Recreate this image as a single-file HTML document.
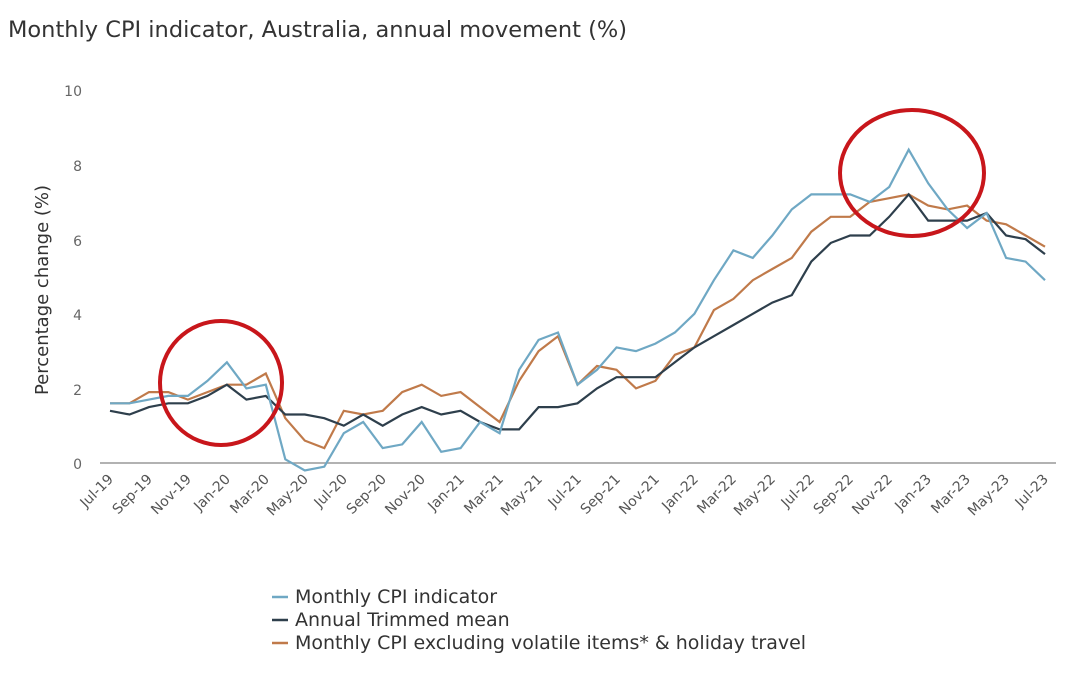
<!DOCTYPE html>
<html><head><meta charset="utf-8"><style>
body{margin:0;background:#fff;width:1080px;height:675px;overflow:hidden;font-family:"DejaVu Sans",sans-serif}
</style></head><body>
<svg id="s" width="1080" height="675" xmlns="http://www.w3.org/2000/svg" font-family="DejaVu Sans, sans-serif">
<rect width="1080" height="675" fill="#fff"/>
<text x="8" y="37" font-size="22.5" fill="#333">Monthly CPI indicator, Australia, annual movement (%)</text>
<g font-size="14" fill="#666" text-anchor="end">
<text x="82" y="96">10</text><text x="82" y="171">8</text><text x="82" y="246">6</text><text x="82" y="320">4</text><text x="82" y="395">2</text><text x="82" y="469">0</text>
</g>
<text transform="translate(48,290) rotate(-90)" font-size="18" fill="#333" text-anchor="middle">Percentage change (%)</text>
<line x1="100" y1="463" x2="1056" y2="463" stroke="#999" stroke-width="1.5"/>
<g id="xl" font-size="14" fill="#555" text-anchor="end">
<text transform="translate(114,480) rotate(-45)">Jul-19</text>
<text transform="translate(153,480) rotate(-45)">Sep-19</text>
<text transform="translate(192,480) rotate(-45)">Nov-19</text>
<text transform="translate(231,480) rotate(-45)">Jan-20</text>
<text transform="translate(270,480) rotate(-45)">Mar-20</text>
<text transform="translate(309,480) rotate(-45)">May-20</text>
<text transform="translate(348,480) rotate(-45)">Jul-20</text>
<text transform="translate(387,480) rotate(-45)">Sep-20</text>
<text transform="translate(426,480) rotate(-45)">Nov-20</text>
<text transform="translate(465,480) rotate(-45)">Jan-21</text>
<text transform="translate(504,480) rotate(-45)">Mar-21</text>
<text transform="translate(543,480) rotate(-45)">May-21</text>
<text transform="translate(582,480) rotate(-45)">Jul-21</text>
<text transform="translate(621,480) rotate(-45)">Sep-21</text>
<text transform="translate(660,480) rotate(-45)">Nov-21</text>
<text transform="translate(699,480) rotate(-45)">Jan-22</text>
<text transform="translate(737,480) rotate(-45)">Mar-22</text>
<text transform="translate(776,480) rotate(-45)">May-22</text>
<text transform="translate(815,480) rotate(-45)">Jul-22</text>
<text transform="translate(854,480) rotate(-45)">Sep-22</text>
<text transform="translate(893,480) rotate(-45)">Nov-22</text>
<text transform="translate(932,480) rotate(-45)">Jan-23</text>
<text transform="translate(971,480) rotate(-45)">Mar-23</text>
<text transform="translate(1010,480) rotate(-45)">May-23</text>
<text transform="translate(1049,480) rotate(-45)">Jul-23</text>
</g>
<polyline id="o" fill="none" stroke="#c07a4a" stroke-width="2.2"/>
<polyline id="d" fill="none" stroke="#2e3f4c" stroke-width="2.2"/>
<polyline id="b" fill="none" stroke="#6fa8c4" stroke-width="2.2"/>
<ellipse cx="221" cy="383" rx="61" ry="62" fill="none" stroke="#c8161b" stroke-width="4"/>
<ellipse cx="912" cy="173" rx="72" ry="63" fill="none" stroke="#c8161b" stroke-width="4"/>
<g font-size="19" fill="#333">
<line x1="272" y1="597" x2="288" y2="597" stroke="#6fa8c4" stroke-width="2.5"/><text x="295" y="603">Monthly CPI indicator</text>
<line x1="272" y1="620" x2="288" y2="620" stroke="#2e3f4c" stroke-width="2.5"/><text x="295" y="626">Annual Trimmed mean</text>
<line x1="272" y1="643" x2="288" y2="643" stroke="#c07a4a" stroke-width="2.5"/><text x="295" y="649">Monthly CPI excluding volatile items* &amp; holiday travel</text>
</g>
</svg>
<script>
var B=[1.6,1.6,1.7,1.8,1.8,2.2,2.7,2.0,2.1,0.1,-0.2,-0.1,0.8,1.1,0.4,0.5,1.1,0.3,0.4,1.1,0.8,2.5,3.3,3.5,2.1,2.5,3.1,3.0,3.2,3.5,4.0,4.9,5.7,5.5,6.1,6.8,7.2,7.2,7.2,7.0,7.4,8.4,7.5,6.8,6.3,6.7,5.5,5.4,4.9];
var D=[1.4,1.3,1.5,1.6,1.6,1.8,2.1,1.7,1.8,1.3,1.3,1.2,1.0,1.3,1.0,1.3,1.5,1.3,1.4,1.1,0.9,0.9,1.5,1.5,1.6,2.0,2.3,2.3,2.3,2.7,3.1,3.4,3.7,4.0,4.3,4.5,5.4,5.9,6.1,6.1,6.6,7.2,6.5,6.5,6.5,6.7,6.1,6.0,5.6];
var O=[1.6,1.6,1.9,1.9,1.7,1.9,2.1,2.1,2.4,1.2,0.6,0.4,1.4,1.3,1.4,1.9,2.1,1.8,1.9,1.5,1.1,2.2,3.0,3.4,2.1,2.6,2.5,2.0,2.2,2.9,3.1,4.1,4.4,4.9,5.2,5.5,6.2,6.6,6.6,7.0,7.1,7.2,6.9,6.8,6.9,6.5,6.4,6.1,5.8];
function p(a){return a.map(function(v,i){return (110+i*19.48).toFixed(1)+","+(463-v*37.3).toFixed(1)}).join(" ")}
document.getElementById("b").setAttribute("points",p(B));
document.getElementById("d").setAttribute("points",p(D));
document.getElementById("o").setAttribute("points",p(O));
</script>
</body></html>
